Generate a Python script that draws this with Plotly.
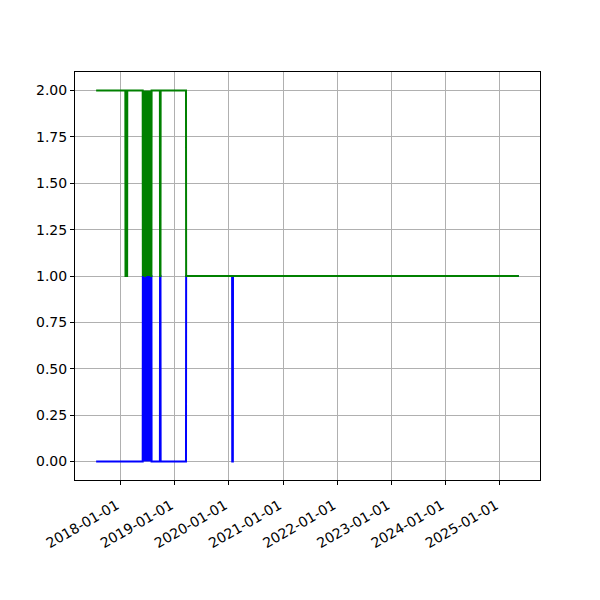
import pandas as pd
import plotly.graph_objects as go

# Blue series (values 0/1)
blue_dates = [
    "2017-07-19", "2018-05-29", "2018-05-30", "2018-06-01", "2018-06-03", "2018-06-05",
    "2018-06-07", "2018-06-09", "2018-06-11", "2018-06-15", "2018-06-17", "2018-06-19",
    "2018-06-21", "2018-06-23", "2018-06-25", "2018-06-27", "2018-06-29", "2018-07-01",
    "2018-07-03", "2018-07-05", "2018-07-07", "2018-07-09", "2018-07-11", "2018-07-13",
    "2018-07-15", "2018-07-17", "2018-07-19", "2018-07-21", "2018-07-23", "2018-07-25",
    "2018-07-27", "2018-07-28", "2018-09-22", "2018-09-23", "2018-09-26", "2018-09-27",
    "2019-03-17", "2019-03-18", "2020-01-22", "2020-01-23", "2020-01-27", "2020-01-28",
    "2025-05-09",
]
blue_values = [
    0, 0, 1, 0, 1, 0,
    1, 0, 1, 1, 0, 1,
    0, 1, 0, 1, 0, 1,
    0, 1, 0, 1, 0, 1,
    0, 1, 0, 1, 0, 1,
    1, 0, 0, 1, 1, 0,
    0, 1, 1, 0, 0, 1,
    1,
]

# Green series (values 1/2)
green_dates = [
    "2017-07-19", "2018-02-01", "2018-02-02", "2018-02-13", "2018-02-14",
    "2018-05-29", "2018-05-30", "2018-06-01", "2018-06-03", "2018-06-05",
    "2018-06-07", "2018-06-09", "2018-06-11", "2018-06-15", "2018-06-17", "2018-06-19",
    "2018-06-21", "2018-06-23", "2018-06-25", "2018-06-27", "2018-06-29", "2018-07-01",
    "2018-07-03", "2018-07-05", "2018-07-07", "2018-07-09", "2018-07-11", "2018-07-13",
    "2018-07-15", "2018-07-17", "2018-07-19", "2018-07-21", "2018-07-23", "2018-07-25",
    "2018-07-27", "2018-07-28", "2018-09-22", "2018-09-23", "2018-09-26", "2018-09-27",
    "2019-03-17", "2019-03-18", "2025-05-09",
]
green_values = [
    2, 2, 1, 1, 2,
    2, 1, 2, 1, 2,
    1, 2, 1, 1, 2, 1,
    2, 1, 2, 1, 2, 1,
    2, 1, 2, 1, 2, 1,
    2, 1, 2, 1, 2, 1,
    1, 2, 2, 1, 1, 2,
    2, 1, 1,
]

x_ticks = ["2018-01-01", "2019-01-01", "2020-01-01", "2021-01-01",
           "2022-01-01", "2023-01-01", "2024-01-01", "2025-01-01"]
y_ticks = [0, 0.25, 0.5, 0.75, 1.0, 1.25, 1.5, 1.75, 2.0]

bd = pd.to_datetime(blue_dates)
gd = pd.to_datetime(green_dates)
xmin = min(bd.min(), gd.min())
xmax = max(bd.max(), gd.max())
span = xmax - xmin
xr = [xmin - 0.05 * span, xmax + 0.05 * span]
ymin, ymax = 0, 2
yspan = ymax - ymin
yr = [ymin - 0.05 * yspan, ymax + 0.05 * yspan]

fig = go.Figure()
fig.add_trace(go.Scatter(x=bd, y=blue_values, mode="lines",
                         line=dict(color="blue", width=2), showlegend=False))
fig.add_trace(go.Scatter(x=gd, y=green_values, mode="lines",
                         line=dict(color="green", width=2), showlegend=False))

axis_common = dict(
    showline=True, linecolor="black", linewidth=1, mirror=True,
    ticks="outside", ticklen=4, tickwidth=1, tickcolor="black",
    showgrid=True, gridcolor="#b0b0b0", gridwidth=1,
    zeroline=False,
    tickfont=dict(family="DejaVu Sans", size=14, color="black"),
)

fig.update_layout(
    width=600, height=600,
    margin=dict(l=67, r=68, t=64, b=128),
    paper_bgcolor="white", plot_bgcolor="white",
    xaxis=dict(range=xr, tickvals=pd.to_datetime(x_ticks), ticktext=x_ticks,
               tickangle=-30, automargin=False, ticklabelstandoff=7,
               ticklabelshift=-4, **axis_common),
    yaxis=dict(range=yr, tickvals=y_ticks, tickformat=".2f", automargin=False,
               **axis_common),
)

fig.write_html("out.html")
